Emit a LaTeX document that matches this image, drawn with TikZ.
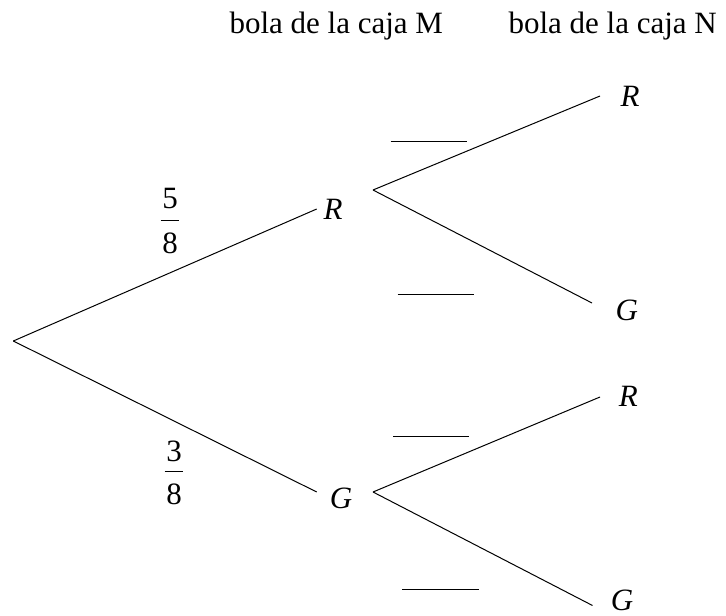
\documentclass[tikz,border=0pt]{standalone}
\usepackage{fontspec}
\setmainfont{Liberation Serif}
\begin{document}
\begin{tikzpicture}[x=1pt,y=-1pt,
  txt/.style={inner sep=0pt,font=\fontsize{31}{37}\selectfont},
  lbl/.style={txt,font=\fontsize{31}{37}\selectfont\itshape},
  branch/.style={line width=1pt,black},
  blank/.style={line width=1pt,black},
  fbar/.style={line width=1.1pt,black}]
\useasboundingbox (0,0) rectangle (726,616);
% headers
\node[txt,anchor=base west] (hM) at (229.3,33.3) {bola de la caja M};
\node[txt,anchor=base west] (hN) at (508.3,33.3) {bola de la caja N};
% branch points and ends
\coordinate (root) at (13.3,341);
\coordinate (eR1) at (316.7,209);
\coordinate (eG1) at (316.7,492);
\coordinate (sR) at (373,190);
\coordinate (sG) at (373,492);
\coordinate (eRR) at (600,96);
\coordinate (eRG) at (592,303);
\coordinate (eGR) at (600,397);
\coordinate (eGG) at (592.5,605.5);
% labels
\node[lbl] (R1) at (333,209) {R};
\node[lbl] (G1) at (341,498) {G};
\node[lbl] (RR) at (630,96) {R};
\node[lbl] (RG) at (626.7,310.5) {G};
\node[lbl] (GR) at (628.3,396.5) {R};
\node[lbl] (GG) at (622,600) {G};
% branches
\draw[branch] (root) -- (eR1);
\draw[branch] (root) -- (eG1);
\draw[branch] (sR) -- (eRR);
\draw[branch] (sR) -- (eRG);
\draw[branch] (sG) -- (eGR);
\draw[branch] (sG) -- (eGG);
% fractions
\node[txt,anchor=base] (n58) at (170,208) {5};
\node[txt,anchor=base] (d58) at (170,253) {8};
\coordinate (b58a) at (160.7,220.5);
\coordinate (b58b) at (179.3,220.5);
\draw[fbar] (b58a) -- (b58b);
\node[txt,anchor=base] (n38) at (174,461) {3};
\node[txt,anchor=base] (d38) at (174,504) {8};
\coordinate (b38a) at (164.7,471.7);
\coordinate (b38b) at (183.3,471.7);
\draw[fbar] (b38a) -- (b38b);
% blanks
\coordinate (k1a) at (390.7,141); \coordinate (k1b) at (466.7,141);
\coordinate (k2a) at (397.7,294); \coordinate (k2b) at (474,294);
\coordinate (k3a) at (393.3,436); \coordinate (k3b) at (469.3,436);
\coordinate (k4a) at (402.3,589.3); \coordinate (k4b) at (479,589.3);
\draw[blank] (k1a) -- (k1b);
\draw[blank] (k2a) -- (k2b);
\draw[blank] (k3a) -- (k3b);
\draw[blank] (k4a) -- (k4b);
\end{tikzpicture}
\end{document}
